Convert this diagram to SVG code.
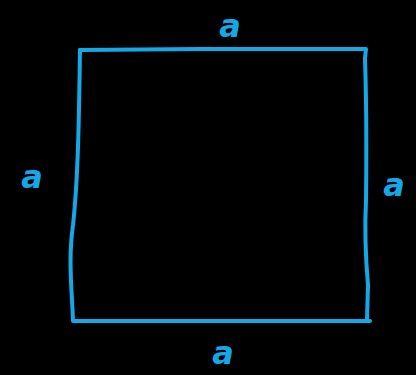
<svg xmlns="http://www.w3.org/2000/svg" width="416" height="375" viewBox="0 0 416 375">
<style>
.s{fill:none;stroke:#14a8e6;stroke-width:4;stroke-linecap:round;stroke-linejoin:round}
.t{fill:#14a8e6;font-family:"DejaVu Sans",sans-serif;font-style:italic;font-weight:bold;font-size:32px;text-anchor:middle}
</style>
<rect width="416" height="375" fill="#000"/>
<g id="square">
<path class="s" d="M80,52 L80,50 L200,49 L366,49 L365,58 Q367,120 366,200 Q364,240 368,285 L367,320"/>
<path class="s" d="M80,50 C79,120 78,180 73,225 C68,260 72,290 73,321 L200,321 L370,321"/>
</g>
<g id="labels">
<text class="t" x="230" y="37">a</text>
<text class="t" x="32" y="188">a</text>
<text class="t" x="394" y="196">a</text>
<text class="t" x="223" y="364">a</text>
</g>
</svg>
